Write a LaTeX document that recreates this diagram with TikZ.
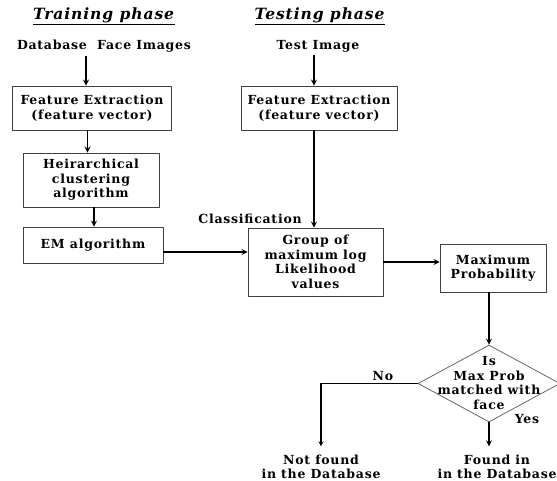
\documentclass[tikz,border=0pt]{standalone}
\usepackage{fontspec}
\setmainfont[LetterSpace=6]{DejaVu Serif}
\usetikzlibrary{shapes.geometric}
\begin{document}
\begin{tikzpicture}[x=1pt, y=-1pt, line join=round, >=stealth,
	font=\fontsize{12.5}{14.5}\selectfont\bfseries,
	box/.style={draw=black!75, line width=0.9pt, align=center, inner sep=0pt},
	flow/.style={->, line width=1.6pt},
	decision/.style={diamond, draw=black!60, line width=0.8pt, inner sep=0pt, minimum width=142pt, minimum height=77pt, aspect=1.85}]
	\useasboundingbox (0,0) rectangle (557,481);
	
	% 1. Tiêu đề hai pha
	\node (train) at (104,16) {\fontsize{15.5}{17}\selectfont\underline{\textit{Training phase}}};
	\node (testp) at (320,16) {\fontsize{15.5}{17}\selectfont\underline{\textit{Testing phase}}};
	\node (db) at (104,46) {Database~ Face Images};
	\node (test) at (318,46) {Test Image};
	
	% 2. Các khối của pha huấn luyện
	\node[box, minimum width=159pt, minimum height=44pt] (fe1) at (92,108) {Feature Extraction\\(feature vector)};
	\node[box, minimum width=136pt, minimum height=54pt] (heir) at (91,180) {Heirarchical\\clustering\\algorithm};
	\node[box, minimum width=140pt, minimum height=36pt] (em) at (93,245) {EM algorithm};
	
	% 3. Các khối của pha kiểm tra
	\node[box, minimum width=156pt, minimum height=44pt] (fe2) at (319,108) {Feature Extraction\\(feature vector)};
	\node (classif) at (250,219) {Classification};
	\node[box, minimum width=135pt, minimum height=68pt] (group) at (315.5,262) {Group of\\maximum log\\Likelihood\\values};
	\node[box, minimum width=106pt, minimum height=48pt] (maxp) at (493,268) {Maximum\\Probability};
	
	% 4. Khối quyết định
	\node[decision] (dia) at (489,383.5) {};
	\node[align=center] (diatext) at (489,383) {Is\\Max Prob\\matched with\\face};
	\node (no) at (383,376) {No};
	\node (yes) at (527,419) {Yes};
	\node[align=center] (notfound) at (321,467) {Not found\\in the Database};
	\node[align=center] (found) at (497,467) {Found in\\in the Database};
	
	% 5. Các mũi tên
	\draw[flow] ([xshift=-18pt]db.south) -- ([xshift=-6pt]fe1.north);
	\draw[flow] ([xshift=-4.5pt]fe1.south) -- ([xshift=-4.5pt]fe1.south |- heir.north);
	\draw[flow] ([xshift=3pt]heir.south) -- ([xshift=3pt]heir.south |- em.north);
	\draw[flow] ([xshift=-4pt]test.south) -- ([xshift=-5pt]fe2.north);
	\draw[flow] ([xshift=-5pt]fe2.south) -- ([xshift=-5pt]fe2.south |- group.north);
	\draw[flow] ([yshift=-7pt]em.east) -- ([yshift=-7pt]em.east -| group.west);
	\draw[flow] (group.east) -- (group.east -| maxp.west);
	\draw[flow] (dia.north |- maxp.south) -- (dia.north);
	\draw[flow, line width=1.2pt] (dia.west) -| ([yshift=5pt]notfound.north);
	\draw[flow] (dia.south) -- ([yshift=5pt]dia.south |- found.north);
\end{tikzpicture}
\end{document}
